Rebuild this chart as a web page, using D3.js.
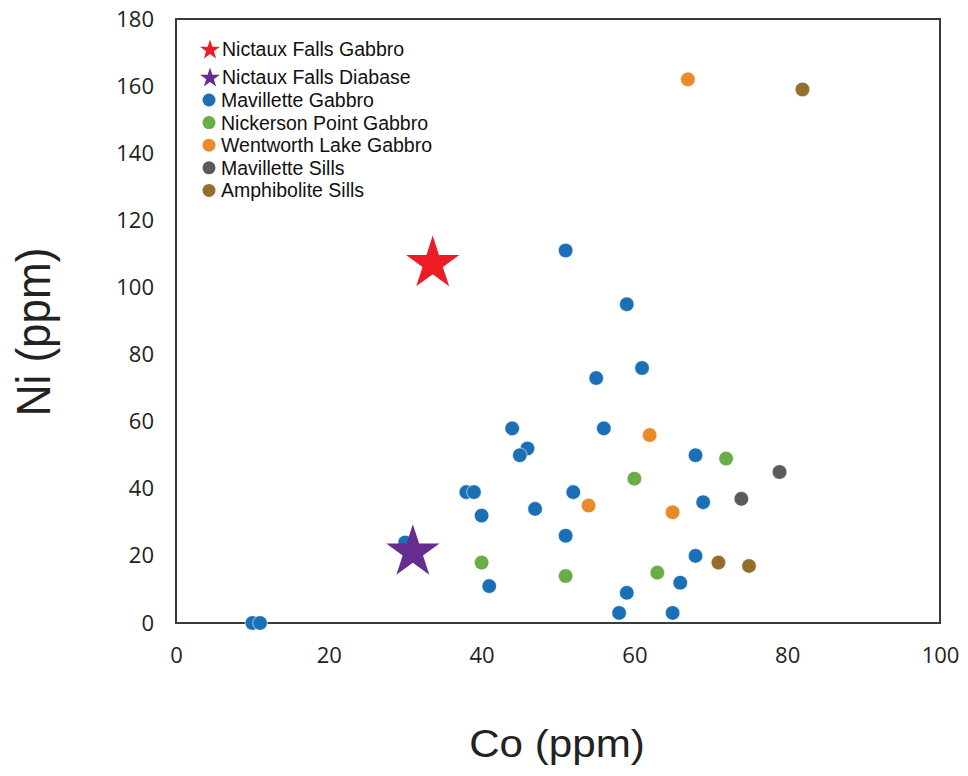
<!DOCTYPE html>
<html>
<head>
<meta charset="utf-8">
<script src="https://cdn.jsdelivr.net/npm/d3@7"></script>
<style>
  body { margin: 0; background: #fff; }
  .tick-label { font-family: "Open Sans", sans-serif; font-size: 22px; fill: #222; }
  .legend-text { font-family: "Liberation Sans", Arial, sans-serif; font-size: 19.5px; fill: #111; }
  .axis-title { font-family: "Liberation Sans", Arial, sans-serif; fill: #222; }
</style>
</head>
<body>
<div class="container"></div>
<script>
// series names as in the legend
var seriesNames = ["Nictaux Falls Gabbro", "Nictaux Falls Diabase", "Mavillette Gabbro",
  "Nickerson Point Gabbro", "Wentworth Lake Gabbro", "Mavillette Sills", "Amphibolite Sills"];
var seriesColors = ["#ed1c24", "#662d91", "#1a6fb6", "#6aac46", "#ea8a29", "#5a5a5a", "#946e2a"];

// Co (x) and Ni (y) values
var nfGabbroCo = [33.6];
var nfGabbroNi = [108];
var nfDiabaseCo = [31];
var nfDiabaseNi = [22];
var mavGabbroCo = [10, 11, 51, 59, 55, 61, 44, 56, 46, 45, 68, 38, 39, 52, 69, 47, 40, 51, 30, 68, 66, 41, 59, 58, 65];
var mavGabbroNi = [0, 0, 111, 95, 73, 76, 58, 58, 52, 50, 50, 39, 39, 39, 36, 34, 32, 26, 24, 20, 12, 11, 9, 3, 3];
var nickersonCo = [72, 60, 40, 51, 63];
var nickersonNi = [49, 43, 18, 14, 15];
var wentworthCo = [67, 62, 54, 65];
var wentworthNi = [162, 56, 35, 33];
var mavSillsCo = [79, 74];
var mavSillsNi = [45, 37];
var amphSillsCo = [82, 71, 75];
var amphSillsNi = [159, 18, 17];

var xTicks = [0, 20, 40, 60, 80, 100];
var yTicks = [0, 20, 40, 60, 80, 100, 120, 140, 160, 180];

var margin = {top: 19, right: 28, bottom: 153, left: 176},
    width = 968 - margin.left - margin.right,
    height = 776 - margin.top - margin.bottom;

var svg = d3.select(".container")
  .append("svg")
    .attr("width", 968)
    .attr("height", 776);

var g = svg.append("g")
    .attr("transform", "translate(" + margin.left + "," + margin.top + ")");

var x = d3.scaleLinear().domain([0, 100]).range([0, width]);
var y = d3.scaleLinear().domain([0, 180]).range([height, 0]);

// tick labels (no tick marks in the original)
var xAxis = g.append("g")
  .attr("transform", "translate(0," + height + ")")
  .call(d3.axisBottom(x).tickValues(xTicks).tickSize(0).tickPadding(24));
xAxis.select(".domain").remove();
xAxis.selectAll("text").attr("class", "tick-label").attr("fill", null);

var yAxis = g.append("g")
  .call(d3.axisLeft(y).tickValues(yTicks).tickSize(0).tickPadding(22));
yAxis.select(".domain").remove();
yAxis.selectAll("text").attr("class", "tick-label").attr("fill", null);

// plot frame
g.append("rect")
  .attr("x", 0).attr("y", 0)
  .attr("width", width).attr("height", height)
  .attr("fill", "none")
  .attr("stroke", "#3a3a3a")
  .attr("stroke-width", 2);

function zip(xs, ys) {
  return xs.map(function(v, i) { return {co: v, ni: ys[i]}; });
}

function drawDots(xs, ys, color) {
  g.append("g").selectAll("circle")
    .data(zip(xs, ys))
    .enter().append("circle")
      .attr("cx", function(d) { return x(d.co); })
      .attr("cy", function(d) { return y(d.ni); })
      .attr("r", 7.3)
      .attr("fill", color)
      .attr("stroke", "#fff")
      .attr("stroke-width", 0.6);
}

var bigStar = d3.symbol().type(d3.symbolStar).size(28 * 28 / 0.8908130915292852);
function drawStars(xs, ys, color) {
  g.append("g").selectAll("path")
    .data(zip(xs, ys))
    .enter().append("path")
      .attr("d", bigStar)
      .attr("transform", function(d) { return "translate(" + x(d.co) + "," + (y(d.ni) + 3) + ")"; })
      .attr("fill", color);
}

drawDots(mavGabbroCo, mavGabbroNi, seriesColors[2]);
drawDots(nickersonCo, nickersonNi, seriesColors[3]);
drawDots(wentworthCo, wentworthNi, seriesColors[4]);
drawDots(mavSillsCo, mavSillsNi, seriesColors[5]);
drawDots(amphSillsCo, amphSillsNi, seriesColors[6]);
drawStars(nfGabbroCo, nfGabbroNi, seriesColors[0]);
drawStars(nfDiabaseCo, nfDiabaseNi, seriesColors[1]);

// legend
var legendY = [49, 77, 100, 122.6, 145.2, 167.8, 190.4];
var smallStar = d3.symbol().type(d3.symbolStar).size(10.5 * 10.5 / 0.8908130915292852);
var legend = svg.append("g");
seriesNames.forEach(function(name, i) {
  if (i < 2) {
    legend.append("path")
      .attr("d", smallStar)
      .attr("transform", "translate(210," + (legendY[i] + 1) + ")")
      .attr("fill", seriesColors[i]);
  } else {
    legend.append("circle")
      .attr("cx", 209).attr("cy", legendY[i])
      .attr("r", 6.5)
      .attr("fill", seriesColors[i]);
  }
  legend.append("text")
    .attr("class", "legend-text")
    .attr("x", i < 2 ? 222 : 221)
    .attr("y", legendY[i])
    .attr("dy", "0.36em")
    .text(name);
});

// axis titles (the original looks a little stretched sideways)
svg.append("text")
  .attr("class", "axis-title")
  .attr("text-anchor", "middle")
  .style("font-size", "38px")
  .attr("transform", "translate(557,757) scale(1.11,1)")
  .text("Co (ppm)");

svg.append("text")
  .attr("class", "axis-title")
  .attr("text-anchor", "middle")
  .style("font-size", "44px")
  .attr("transform", "translate(50,332) scale(1.08,1) rotate(-90)")
  .text("Ni (ppm)");
</script>
</body>
</html>
